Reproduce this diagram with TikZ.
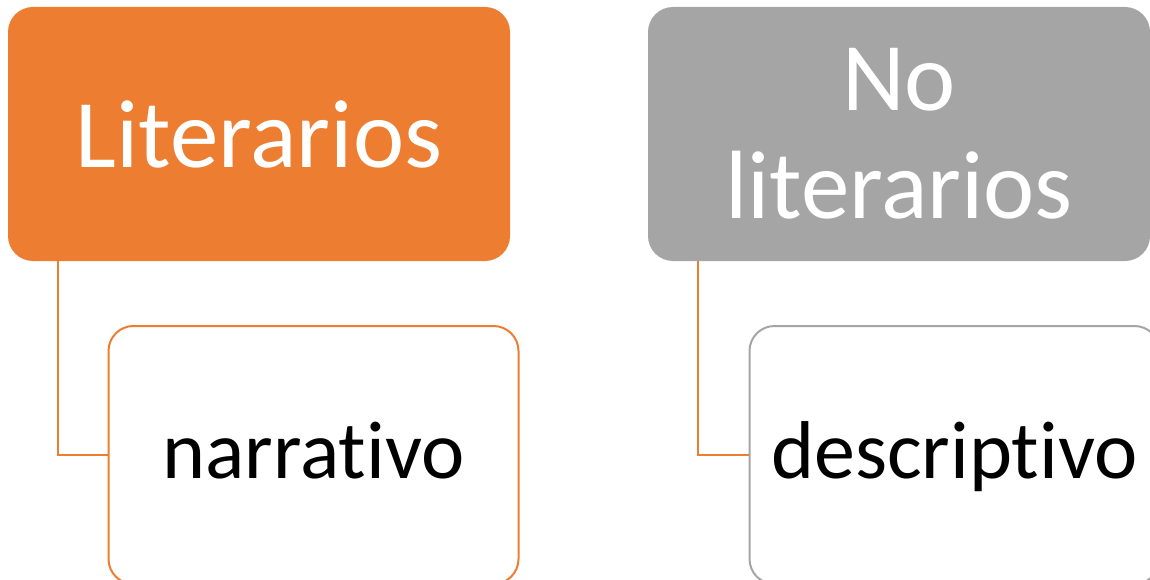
\documentclass[tikz,border=0pt]{standalone}
\usepackage{fontspec}
\setmainfont{Carlito}[Ligatures=NoCommon]
\usepackage{tikz}
\usetikzlibrary{calc,positioning}
\definecolor{accorange}{HTML}{ED7D31}
\definecolor{accgray}{HTML}{A5A5A5}
\tikzset{
  topbox/.style={rectangle, rounded corners=25pt, text=white, minimum width=502pt,
                 minimum height=254pt, align=center, inner sep=0pt,
                 font=\fontsize{97}{108}\selectfont},
  subbox/.style={rectangle, rounded corners=25pt, fill=white, line width=2pt,
                 minimum width=410pt, minimum height=258pt, inner sep=0pt,
                 text height=46pt, text depth=0pt,
                 font=\fontsize{82}{90}\selectfont},
  conn/.style={draw=accorange, line width=2pt}
}
\begin{document}
\begin{tikzpicture}[x=1pt,y=-1pt]
\useasboundingbox (0,0) rectangle (1150,580);
\clip (0,0) rectangle (1150,580);
% top level
\node[topbox, fill=accorange] (lit) at (259,134) {Literarios};
\node[topbox, fill=accgray] (nolit) at (899,134) {No\\literarios};
% second level
\node[subbox, draw=accorange] (narr) at (313.5,455) {narrativo};
\node[subbox, draw=accgray] (descr) at (954.5,455) {descriptivo};
% connectors
\draw[conn] ($(lit.south west)+(50,0)$) |- (narr.west);
\draw[conn] ($(nolit.south west)+(50,0)$) |- (descr.west);
\end{tikzpicture}
\end{document}
